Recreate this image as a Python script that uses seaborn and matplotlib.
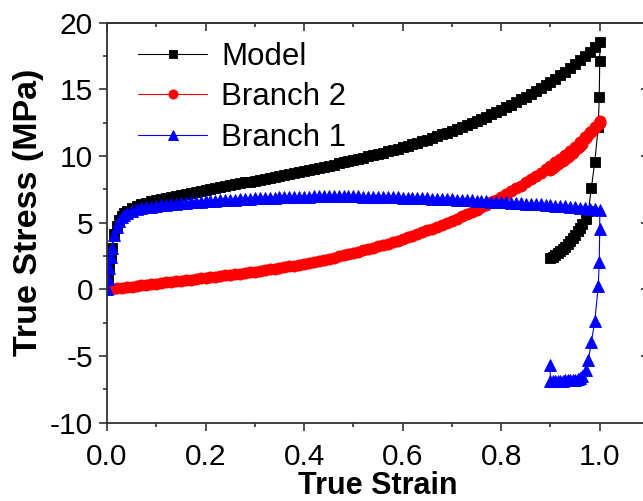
import matplotlib
matplotlib.use("Agg")
import matplotlib.pyplot as plt
from matplotlib.ticker import MultipleLocator
import seaborn as sns

# ---- Branch 1 and Model (loading) ---------------------------------------
strain_load = [
    0.0, 0.0025, 0.005, 0.0075, 0.01, 0.015, 0.02, 0.025, 0.03, 0.035, 0.04,
    0.05, 0.06, 0.07, 0.08, 0.09, 0.10, 0.11, 0.12, 0.13, 0.14,
    0.15, 0.16, 0.17, 0.18, 0.19, 0.20, 0.21, 0.22, 0.23, 0.24,
    0.25, 0.26, 0.27, 0.28, 0.29, 0.30, 0.31, 0.32, 0.33, 0.34,
    0.35, 0.36, 0.37, 0.38, 0.39, 0.40, 0.41, 0.42, 0.43, 0.44,
    0.45, 0.46, 0.47, 0.48, 0.49, 0.50, 0.51, 0.52, 0.53, 0.54,
    0.55, 0.56, 0.57, 0.58, 0.59, 0.60, 0.61, 0.62, 0.63, 0.64,
    0.65, 0.66, 0.67, 0.68, 0.69, 0.70, 0.71, 0.72, 0.73, 0.74,
    0.75, 0.76, 0.77, 0.78, 0.79, 0.80, 0.81, 0.82, 0.83, 0.84,
    0.85, 0.86, 0.87, 0.88, 0.89, 0.90, 0.91, 0.92, 0.93, 0.94,
    0.95, 0.96, 0.97, 0.98, 0.99, 1.00,
]
branch1_load = [
    0.00, 0.80, 1.60, 2.40, 3.10, 4.10, 4.70, 5.10, 5.40, 5.60, 5.72,
    5.90, 6.00, 6.08, 6.15, 6.21, 6.26, 6.31, 6.35, 6.39, 6.43,
    6.46, 6.49, 6.52, 6.55, 6.58, 6.61, 6.63, 6.65, 6.68, 6.70,
    6.72, 6.74, 6.76, 6.78, 6.80, 6.82, 6.84, 6.85, 6.87, 6.88,
    6.90, 6.91, 6.92, 6.93, 6.94, 6.95, 6.96, 6.97, 6.97, 6.98,
    6.98, 6.98, 6.98, 6.98, 6.98, 6.97, 6.97, 6.96, 6.96, 6.95,
    6.94, 6.93, 6.92, 6.91, 6.90, 6.89, 6.88, 6.86, 6.85, 6.84,
    6.82, 6.81, 6.79, 6.78, 6.76, 6.75, 6.73, 6.71, 6.69, 6.67,
    6.65, 6.63, 6.61, 6.59, 6.57, 6.55, 6.53, 6.51, 6.49, 6.47,
    6.44, 6.42, 6.39, 6.37, 6.34, 6.31, 6.28, 6.25, 6.22, 6.19,
    6.16, 6.13, 6.10, 6.06, 6.02, 5.98,
]
model_load = [
    0.00, 0.81, 1.62, 2.43, 3.14, 4.16, 4.78, 5.20, 5.53, 5.75, 5.89,
    6.11, 6.26, 6.38, 6.50, 6.60, 6.69, 6.79, 6.87, 6.96, 7.04,
    7.11, 7.19, 7.26, 7.34, 7.41, 7.48, 7.55, 7.61, 7.69, 7.75,
    7.82, 7.89, 7.95, 8.02, 8.09, 8.16, 8.23, 8.29, 8.37, 8.43,
    8.51, 8.58, 8.65, 8.72, 8.80, 8.88, 8.96, 9.04, 9.11, 9.20,
    9.28, 9.36, 9.45, 9.53, 9.62, 9.70, 9.79, 9.88, 9.98, 10.07,
    10.16, 10.26, 10.36, 10.46, 10.56, 10.67, 10.78, 10.88, 11.00, 11.12,
    11.24, 11.37, 11.49, 11.63, 11.76, 11.90, 12.04, 12.18, 12.32, 12.47,
    12.63, 12.79, 12.96, 13.13, 13.30, 13.48, 13.67, 13.86, 14.06, 14.26,
    14.46, 14.68, 14.89, 15.12, 15.34, 15.57, 15.81, 16.06, 16.32, 16.59,
    16.87, 17.18, 17.50, 17.84, 18.20, 18.58,
]

# ---- Branch 2 (loading) -------------------------------------------------
strain_load_b2 = [
    0.00, 0.01, 0.02, 0.03, 0.04, 0.05, 0.06, 0.07, 0.08, 0.09,
    0.10, 0.11, 0.12, 0.13, 0.14, 0.15, 0.16, 0.17, 0.18, 0.19,
    0.20, 0.21, 0.22, 0.23, 0.24, 0.25, 0.26, 0.27, 0.28, 0.29,
    0.30, 0.31, 0.32, 0.33, 0.34, 0.35, 0.36, 0.37, 0.38, 0.39,
    0.40, 0.41, 0.42, 0.43, 0.44, 0.45, 0.46, 0.47, 0.48, 0.49,
    0.50, 0.51, 0.52, 0.53, 0.54, 0.55, 0.56, 0.57, 0.58, 0.59,
    0.60, 0.61, 0.62, 0.63, 0.64, 0.65, 0.66, 0.67, 0.68, 0.69,
    0.70, 0.71, 0.72, 0.73, 0.74, 0.75, 0.76, 0.77, 0.78, 0.79,
    0.80, 0.81, 0.82, 0.83, 0.84, 0.85, 0.86, 0.87, 0.88, 0.89,
    0.90, 0.91, 0.92, 0.93, 0.94, 0.95, 0.96, 0.97, 0.98, 0.99,
    1.00,
]
branch2_load = [
    0.00, 0.04, 0.08, 0.13, 0.17, 0.21, 0.26, 0.30, 0.35, 0.39,
    0.43, 0.48, 0.52, 0.57, 0.61, 0.65, 0.70, 0.74, 0.79, 0.83,
    0.87, 0.92, 0.96, 1.01, 1.05, 1.10, 1.15, 1.19, 1.24, 1.29,
    1.34, 1.39, 1.44, 1.50, 1.55, 1.61, 1.67, 1.73, 1.79, 1.86,
    1.93, 2.00, 2.07, 2.14, 2.22, 2.30, 2.38, 2.47, 2.55, 2.64,
    2.73, 2.82, 2.92, 3.02, 3.12, 3.22, 3.33, 3.44, 3.55, 3.66,
    3.78, 3.90, 4.02, 4.15, 4.28, 4.42, 4.56, 4.70, 4.85, 5.00,
    5.15, 5.31, 5.47, 5.63, 5.80, 5.98, 6.16, 6.35, 6.54, 6.73,
    6.93, 7.14, 7.35, 7.57, 7.79, 8.02, 8.26, 8.50, 8.75, 9.00,
    9.26, 9.53, 9.81, 10.10, 10.40, 10.71, 11.05, 11.40, 11.78, 12.18,
    12.60,
]

# ---- Unloading paths (strain decreasing from 1.0 back to 0.9) -----------
strain_unload = [
    1.000, 0.999, 0.997, 0.990, 0.983, 0.977, 0.972,
    0.965, 0.960, 0.955, 0.950, 0.945, 0.940, 0.935, 0.930,
    0.925, 0.920, 0.915, 0.910, 0.905, 0.900,
]
model_unload = [
    17.15, 14.40, 12.20, 9.57, 7.62, 5.90, 5.30,
    4.90, 4.60, 4.35, 4.10, 3.85, 3.62, 3.40, 3.20,
    3.00, 2.85, 2.70, 2.56, 2.44, 2.33,
]
branch2_unload = [
    12.50, 12.45, 12.35, 12.10, 11.80, 11.55, 11.35,
    10.90, 10.75, 10.58, 10.42, 10.26, 10.10, 9.95, 9.80,
    9.66, 9.52, 9.38, 9.25, 9.12, 8.95,
]
strain_unload_b1 = [
    1.000, 0.999, 0.997, 0.990, 0.983, 0.977, 0.972,
    0.965, 0.960, 0.955, 0.950, 0.945, 0.940, 0.935, 0.930,
    0.925, 0.920, 0.915, 0.910, 0.905, 0.900, 0.899,
]
branch1_unload = [
    4.50, 2.07, 0.25, -2.38, -3.98, -5.30, -6.05,
    -6.50, -6.65, -6.72, -6.76, -6.79, -6.80, -6.82, -6.83,
    -6.84, -6.84, -6.85, -6.85, -6.85, -6.84, -5.68,
]

x_ticks = [0.0, 0.2, 0.4, 0.6, 0.8, 1.0]
y_ticks = [-10, -5, 0, 5, 10, 15, 20]

sns.set_style("ticks")
plt.rcParams["font.family"] = ["Liberation Sans", "DejaVu Sans"]
plt.rcParams["axes.linewidth"] = 1.3
plt.rcParams["text.color"] = "black"
plt.rcParams["axes.labelcolor"] = "black"

fig = plt.figure(figsize=(6.43, 5.01), dpi=100)
W, H = 643.0, 501.0
ax = fig.add_axes([107 / W, 1 - 422.7 / H, (649 - 107) / W, 400 / H])

series = [
    ("Model", strain_load + strain_unload, model_load + model_unload,
     "black", "s", 6.8, 5.8),
    ("Branch 2", strain_load_b2 + strain_unload, branch2_load + branch2_unload,
     "red", "o", 8.0, 6.6),
    ("Branch 1", strain_load + strain_unload_b1, branch1_load + branch1_unload,
     "blue", "^", 8.6, 7.4),
]
for label, xs, ys, color, marker, ms, _ in series:
    sns.lineplot(x=xs, y=ys, ax=ax, sort=False, estimator=None,
                 color=color, marker=marker, markersize=ms,
                 markeredgewidth=0.6, markeredgecolor=color,
                 linewidth=0.8, label=label)

ax.set_xlim(0, 1.1)
ax.set_ylim(-10, 20)
ax.set_xticks(x_ticks)
ax.set_xticklabels([f"{t:.1f}" for t in x_ticks])
ax.set_yticks(y_ticks)
ax.set_yticklabels([str(t) for t in y_ticks])
ax.xaxis.set_minor_locator(MultipleLocator(0.1))
ax.yaxis.set_minor_locator(MultipleLocator(2.5))

spine_col = "#333333"
for s in ax.spines.values():
    s.set_color(spine_col)
ax.tick_params(axis="x", which="major", pad=8.5)
ax.tick_params(axis="y", which="major", pad=4)
ax.tick_params(axis="both", which="major", direction="out", length=6,
               width=1.2, color=spine_col, labelsize=21.5, labelcolor="black")
ax.tick_params(axis="both", which="minor", direction="out", length=3,
               width=1.2, color=spine_col)

# inward ticks on the top and right frame
top = ax.secondary_xaxis("top")
top.set_xticks(x_ticks)
top.xaxis.set_minor_locator(MultipleLocator(0.1))
top.tick_params(which="major", direction="in", length=6, width=1.2,
                color=spine_col, labeltop=False)
top.tick_params(which="minor", direction="in", length=3, width=1.2,
                color=spine_col)
top.spines["top"].set_color(spine_col)
right = ax.secondary_yaxis("right")
right.set_yticks(y_ticks)
right.yaxis.set_minor_locator(MultipleLocator(2.5))
right.tick_params(which="major", direction="in", length=6, width=1.2,
                  color=spine_col, labelright=False)
right.tick_params(which="minor", direction="in", length=3, width=1.2,
                  color=spine_col)

ax.set_xlabel("True Strain", fontsize=22, fontweight="bold", labelpad=0,
              color="black")
ax.set_ylabel("True Stress (MPa)", fontsize=24.5, fontweight="bold",
              color="black")
ax.yaxis.set_label_coords(-0.116, 0.5255)

leg = ax.legend(loc="upper left", bbox_to_anchor=(0.058, 0.952),
                frameon=False, fontsize=22.5, handlelength=2.2,
                handletextpad=0.45, labelspacing=0.33, borderaxespad=0,
                borderpad=0)
for handle, (_, _, _, _, _, _, legend_ms) in zip(leg.legend_handles, series):
    handle.set_markersize(legend_ms)

fig.savefig("out.png", dpi=100)
